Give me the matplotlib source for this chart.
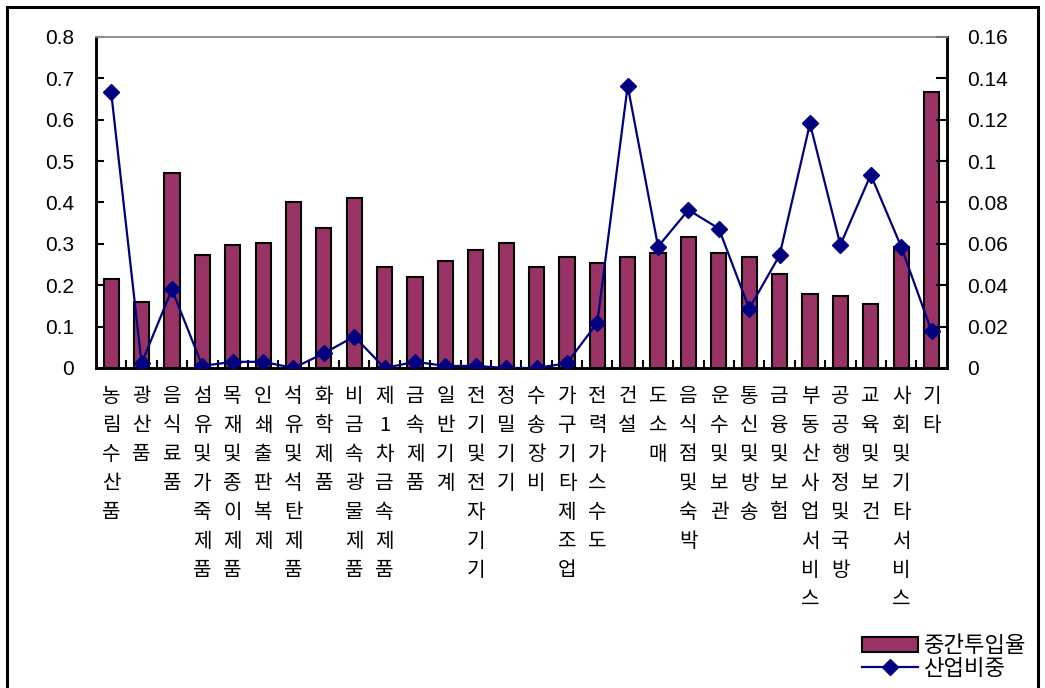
import matplotlib
matplotlib.use("Agg")
import matplotlib.pyplot as plt
from matplotlib.patches import Rectangle
from matplotlib.ticker import FixedLocator, MultipleLocator, FuncFormatter
import numpy as np

categories = [
    "농림수산품", "광산품", "음식료품", "섬유및가죽제품", "목재및종이제품",
    "인쇄출판복제", "석유및석탄제품", "화학제품", "비금속광물제품", "제1차금속제품",
    "금속제품", "일반기계", "전기및전자기기", "정밀기기", "수송장비",
    "가구기타제조업", "전력가스수도", "건설", "도소매", "음식점및숙박",
    "운수및보관", "통신및방송", "금융및보험", "부동산사업서비스", "공공행정및국방",
    "교육및보건", "사회및기타서비스", "기타",
]
intermediate_ratio = [
    0.215, 0.159, 0.472, 0.273, 0.298, 0.303, 0.402, 0.338, 0.412, 0.244,
    0.219, 0.259, 0.284, 0.303, 0.244, 0.268, 0.253, 0.268, 0.277, 0.317,
    0.277, 0.268, 0.227, 0.179, 0.174, 0.154, 0.293, 0.666,
]
industry_share = [
    0.1332, 0.0023, 0.038, 0.001, 0.003, 0.003, 0.0, 0.0071, 0.0152, 0.0,
    0.003, 0.001, 0.001, 0.0, 0.0, 0.0023, 0.0219, 0.1364, 0.0587, 0.0764,
    0.0674, 0.0287, 0.0545, 0.1182, 0.0595, 0.0934, 0.0587, 0.0179,
]
legend_labels = ["중간투입율", "산업비중"]

NUM_FONT = "Liberation Sans"
KR_FONT = ["Noto Sans CJK KR", "DejaVu Sans"]

fig = plt.figure(figsize=(10.45, 6.88), dpi=100)
ax = fig.add_axes([96 / 1045, 1 - 368 / 688, (946.7 - 96) / 1045, 331 / 688])
ax2 = ax.twinx()

x = np.arange(len(categories))
bars = ax.bar(x, intermediate_ratio, width=0.5, color="#993366",
              edgecolor="black", linewidth=1.5, zorder=2)
line, = ax2.plot(x, industry_share, color="#000080", linewidth=1.6,
                 marker="D", markersize=8, markerfacecolor="#000080",
                 markeredgecolor="#000080", zorder=3)

ax.set_xlim(-0.5, len(categories) - 0.5)
ax.set_ylim(0, 0.8)
ax2.set_ylim(0, 0.16)

ax.yaxis.set_major_locator(MultipleLocator(0.1))
ax2.yaxis.set_major_locator(MultipleLocator(0.02))
ax.yaxis.set_major_formatter(FuncFormatter(lambda v, p: "0" if abs(v) < 1e-9 else f"{v:.1f}"))
ax2.yaxis.set_major_formatter(FuncFormatter(lambda v, p: "0" if abs(v) < 1e-9 else f"{v:.2f}".rstrip("0")))

ax.tick_params(axis="y", direction="in", length=6, width=1.5, pad=16,
               labelsize=15)
ax2.tick_params(axis="y", direction="in", length=8, width=1.5, pad=15,
                labelsize=15)
for lab in ax.get_yticklabels() + ax2.get_yticklabels():
    lab.set_fontfamily(NUM_FONT)

ax.set_xticks(x)
ax.set_xticklabels(["\n".join(c) for c in categories], fontfamily=KR_FONT,
                   fontsize=14.5, linespacing=1.50, va="top")
ax.tick_params(axis="x", which="major", length=0, pad=13)
ax.xaxis.set_minor_locator(FixedLocator(np.arange(0.5, len(categories) - 1, 1.0)))
ax.tick_params(axis="x", which="minor", direction="in", length=6, width=1.5)

for s in ["left", "right", "bottom"]:
    ax.spines[s].set_linewidth(1.8)
    ax2.spines[s].set_linewidth(1.8)
ax.spines["top"].set_color("#909090")
ax2.spines["top"].set_color("#909090")
ax.spines["top"].set_linewidth(1.2)
ax2.spines["top"].set_linewidth(1.2)

leg = fig.legend([bars, line], legend_labels, loc="upper left",
                 bbox_to_anchor=(862 / 1045, 1 - 634 / 688), frameon=False,
                 prop={"family": KR_FONT, "size": 16}, handlelength=2.5,
                 handleheight=0.68, handletextpad=0.27, labelspacing=0.0,
                 borderpad=0, borderaxespad=0)

fig.patches.append(Rectangle((7 / 1045, -0.01), (1038 - 7) / 1045, 1 - 7 / 688 + 0.01,
                             transform=fig.transFigure, fill=False,
                             edgecolor="black", linewidth=2.2))

fig.savefig("out.png", dpi=100)
